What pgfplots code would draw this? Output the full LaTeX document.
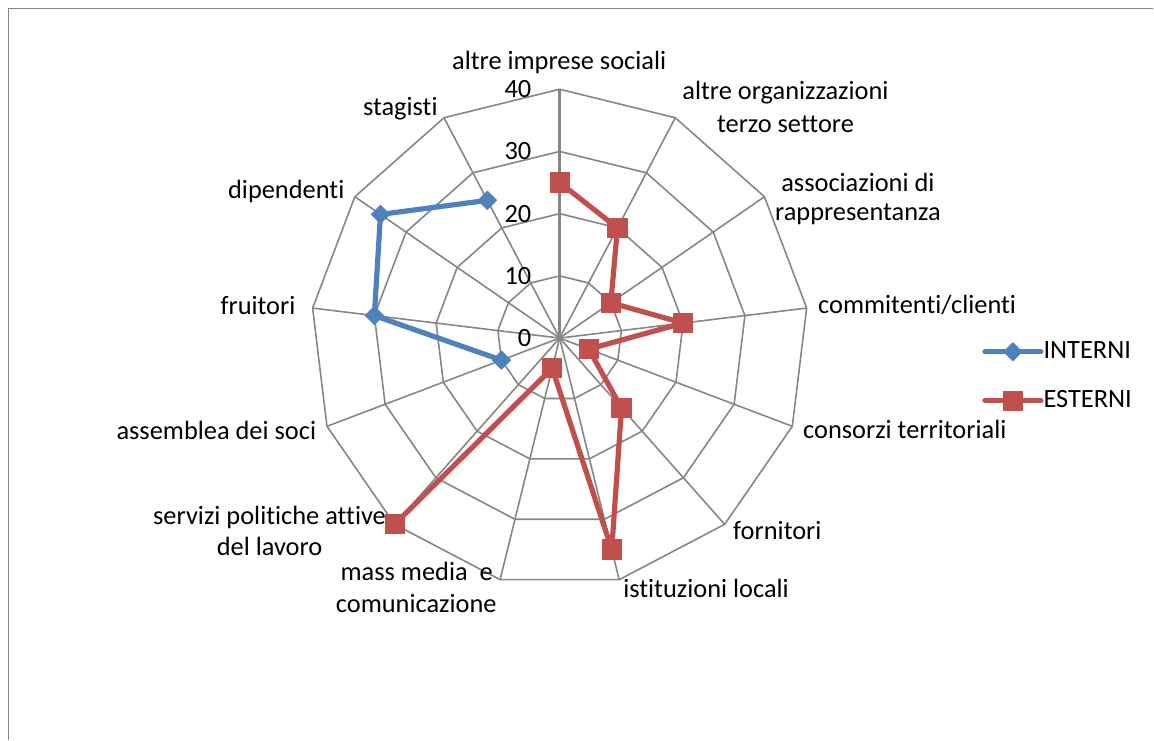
\documentclass[border=0pt]{standalone}
\usepackage{pgfplots}
\pgfplotsset{compat=1.18}
\usepackage{pgfplotstable}
\usepackage{fontspec}
\setmainfont{Carlito}[Ligatures=NoCommon]
\definecolor{gridc}{HTML}{868686}
\definecolor{blu}{HTML}{4F81BD}
\definecolor{ros}{HTML}{C0504D}

% radar values: i = category index (0 = altre imprese sociali, clockwise), r = value
\pgfplotstableread{
i r
0 25
1 20
2 10
3 20
4 5
5 15
6 35
7 5
8 40
}\esterni
\pgfplotstableread{
i r
9 10
10 30
11 35
12 25
}\interni
\pgfplotstableread{
i r
0 1
1 1
2 1
3 1
4 1
5 1
6 1
7 1
8 1
9 1
10 1
11 1
12 1
13 1
}\ring
\pgfplotstableread{
i r
0 0
0 40
}\spoke

\newcommand{\cx}{560}
\newcommand{\cy}{338.3}
\newcommand{\rs}{6.225}
\newcommand{\lab}{\fontsize{13.2}{16}\selectfont}

\begin{document}
\begin{tikzpicture}
\begin{axis}[
  hide axis, scale only axis,
  width=577pt, height=370pt,
  xmin=0, xmax=1154, ymin=-740, ymax=0,
  clip=false,
  legend style={at={(axis cs:983,-376.5)}, anchor=west, draw=none, fill=none,
    inner sep=0pt, outer sep=0pt, row sep=0pt, column sep=0pt,
    font=\lab, nodes={inner sep=0pt, minimum height=24.5pt}},
  legend cell align=left,
  legend image code/.code={\draw[mark repeat=2,mark phase=2,line cap=round,#1] plot coordinates {(0pt,0pt) (14pt,0pt) (28pt,0pt)};},
]
\path (axis cs:0,0) rectangle (axis cs:1154,-740);
\draw[gridc, line width=0.75pt] (axis cs:8.3,-740) -- (axis cs:8.3,-8.3) -- (axis cs:1154,-8.3);

% polygonal grid
\pgfplotsinvokeforeach{10,20,30,40}{
  \addplot[gridc, line width=0.8pt, forget plot, line join=miter]
    table[x expr=\cx+\rs*#1*\thisrow{r}*sin(\thisrow{i}*360/13), y expr=-\cy+\rs*#1*\thisrow{r}*cos(\thisrow{i}*360/13)] {\ring};
}
% spokes
\pgfplotsinvokeforeach{1,...,12}{
  \addplot[gridc, line width=0.8pt, forget plot]
    table[x expr=\cx+\rs*\thisrow{r}*sin(#1*360/13), y expr=-\cy+\rs*\thisrow{r}*cos(#1*360/13)] {\spoke};
}
\addplot[gridc, line width=1.5pt, forget plot]
  table[x expr=\cx, y expr=-\cy+\rs*\thisrow{r}] {\spoke};

% value labels
\pgfplotsinvokeforeach{0,10,20,30,40}{
  \node[anchor=east, inner sep=0pt, font=\lab] at (axis cs:532,{-\cy+\rs*#1}) {#1};
}

% series
\addplot[blu, line width=2.6pt, line join=round, mark=square*,
  mark options={rotate=45, solid, fill=blu, draw=blu, line width=0.5pt}, mark size=3.2pt]
  table[x expr=\cx+\rs*\thisrow{r}*sin(\thisrow{i}*360/13), y expr=-\cy+\rs*\thisrow{r}*cos(\thisrow{i}*360/13)] {\interni};
\addlegendentry{INTERNI}
\addplot[ros, line width=2.6pt, line join=round, mark=square*,
  mark options={solid, fill=ros, draw=ros, line width=0.5pt}, mark size=4.8pt]
  table[x expr=\cx+\rs*\thisrow{r}*sin(\thisrow{i}*360/13), y expr=-\cy+\rs*\thisrow{r}*cos(\thisrow{i}*360/13)] {\esterni};
\addlegendentry{ESTERNI}

% category labels
\begin{scope}[every node/.style={font=\lab, inner sep=0pt}]
\node[anchor=base] at (axis cs:559.5,-70) {altre imprese sociali};
\node[anchor=base] at (axis cs:786,-100) {altre organizzazioni};
\node[anchor=base] at (axis cs:786,-133) {terzo settore};
\node[anchor=base] at (axis cs:858.5,-192) {associazioni di};
\node[anchor=base] at (axis cs:858.5,-221) {rappresentanza};
\node[anchor=base west] at (axis cs:818.3,-314) {commitenti/clienti};
\node[anchor=base west] at (axis cs:803.3,-438.3) {consorzi territoriali};
\node[anchor=base west] at (axis cs:733.3,-540) {fornitori};
\node[anchor=base west] at (axis cs:623.3,-598.3) {istituzioni locali};
\node[anchor=base] at (axis cs:417,-581) {mass media\ \ e};
\node[anchor=base] at (axis cs:416.5,-613.3) {comunicazione};
\node[anchor=base] at (axis cs:269.7,-525) {servizi politiche attive};
\node[anchor=base] at (axis cs:269.7,-556) {del lavoro};
\node[anchor=base east] at (axis cs:316.7,-439.3) {assemblea dei soci};
\node[anchor=base east] at (axis cs:296,-315) {fruitori};
\node[anchor=base east] at (axis cs:345,-198.3) {dipendenti};
\node[anchor=base east] at (axis cs:438.3,-116) {stagisti};
\end{scope}
\end{axis}
\end{tikzpicture}
\end{document}
